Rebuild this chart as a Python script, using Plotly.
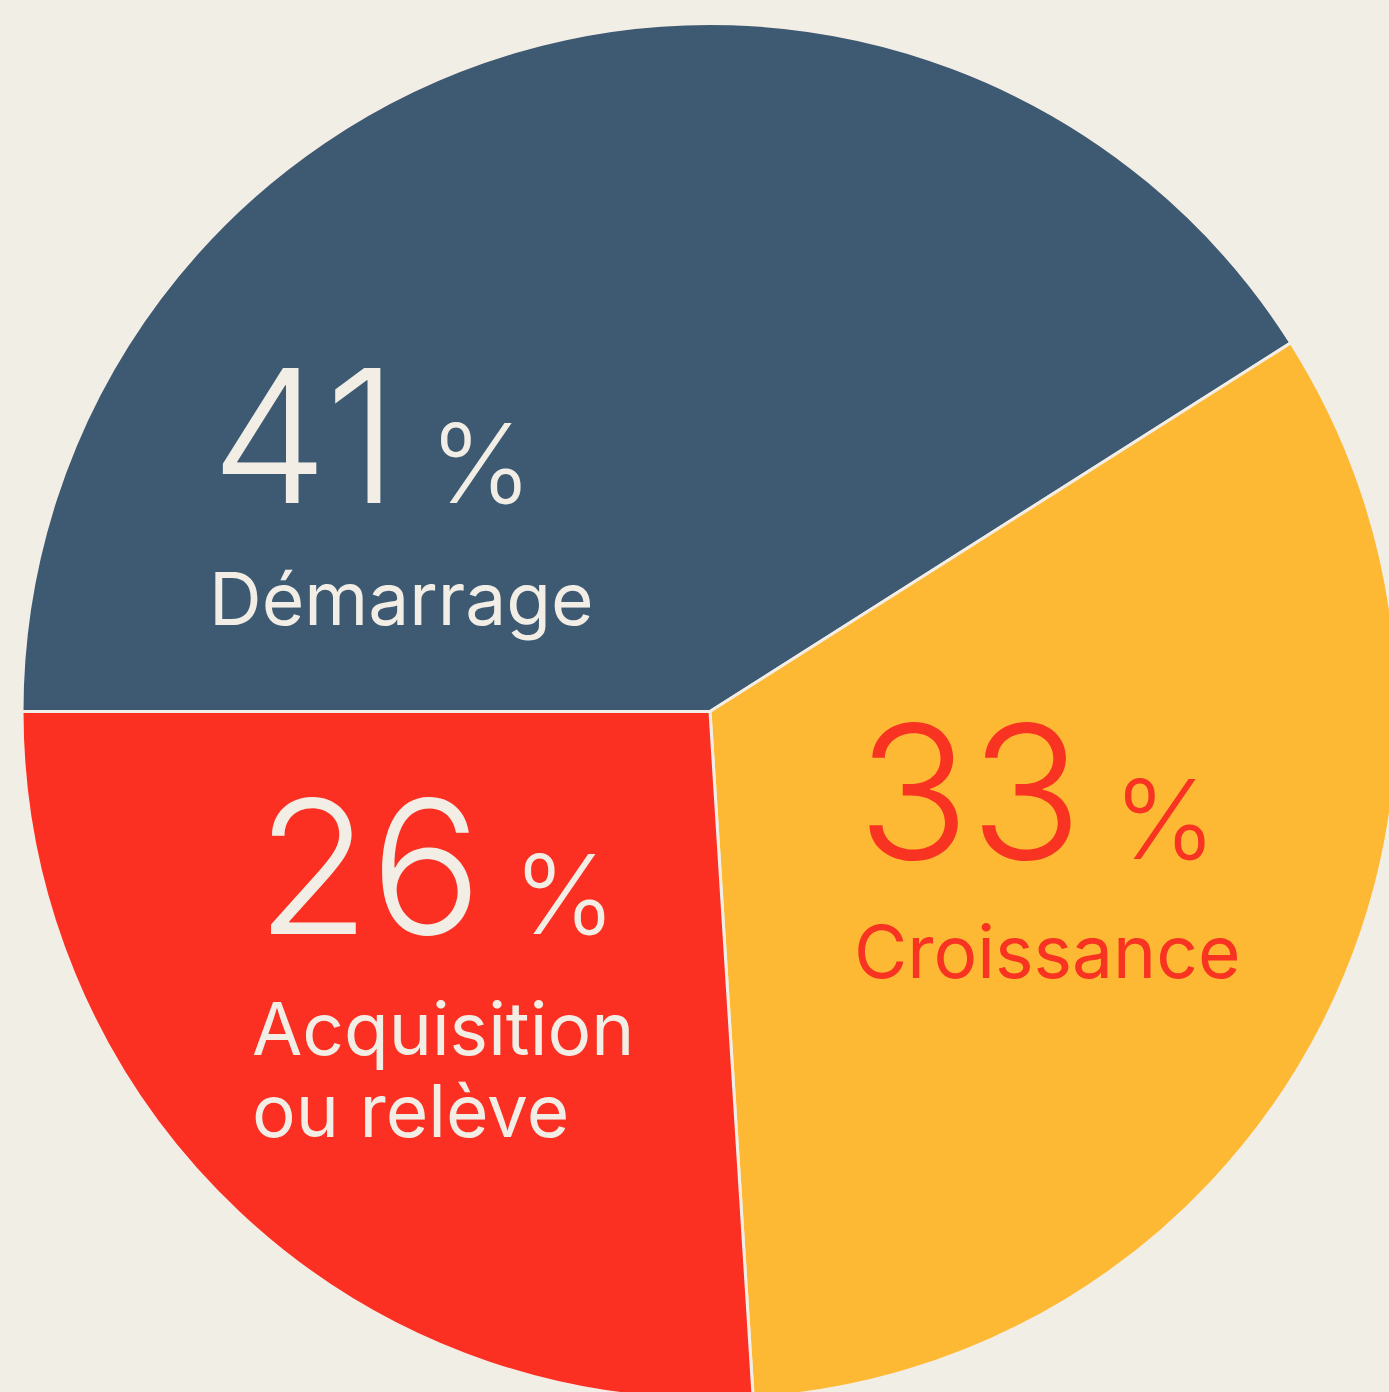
import plotly.graph_objects as go

categories = ["Démarrage", "Croissance", "Acquisition<br>ou relève"]
values = [41, 33, 26]
slice_colors = ["#3D5A72", "#FDB934", "#FB3022"]
text_colors = ["#F2EEE6", "#F93322", "#F2EEE6"]

BG = "#F1EEE6"
W, H = 1398, 1401
ML, MT = 22, 22

fig = go.Figure(go.Pie(
    labels=categories, values=values, sort=False, direction="clockwise",
    rotation=270, hole=0,
    marker=dict(colors=slice_colors, line=dict(color="#F2EEE6", width=3)),
    textinfo="none", hoverinfo="label+percent", showlegend=False,
    domain=dict(x=[0, 1], y=[0, 1]),
))

def px(x):
    return (x - ML) / (W - ML)

def py(y):
    return 1 - (y - MT) / (H - MT)

# label anchor positions (pixels) for number block and category lines
num_pos = [(209, 435), (855, 791), (254, 866)]
lab_pos = [[(207, 598)], [(852, 951)], [(250, 1028), (250, 1110)]]

anns = []
for i, v in enumerate(values):
    x, y = num_pos[i]
    anns.append(dict(
        x=px(x), y=py(y), xref="paper", yref="paper", xanchor="left", yanchor="middle",
        showarrow=False,
        text=f"<span style='font-size:186px'>{v}</span> <span style='font-size:110px'>%</span>",
        font=dict(family="Inter", color=text_colors[i], size=110, weight=300),
    ))
    lines = categories[i].split("<br>")
    for (lx, ly), line in zip(lab_pos[i], lines):
        anns.append(dict(
            x=px(lx), y=py(ly), xref="paper", yref="paper", xanchor="left", yanchor="middle",
            showarrow=False, text=line,
            font=dict(family="Inter", color=text_colors[i], size=73, weight=400),
        ))

fig.update_layout(
    width=W, height=H, autosize=False,
    margin=dict(l=ML, t=MT, r=0, b=0, pad=0),
    paper_bgcolor=BG, plot_bgcolor=BG,
    annotations=anns,
)

fig.write_html("out.html", config={"displayModeBar": False},
               post_script="document.body.style.margin='0';document.body.style.overflow='hidden';document.documentElement.style.overflow='hidden';")
